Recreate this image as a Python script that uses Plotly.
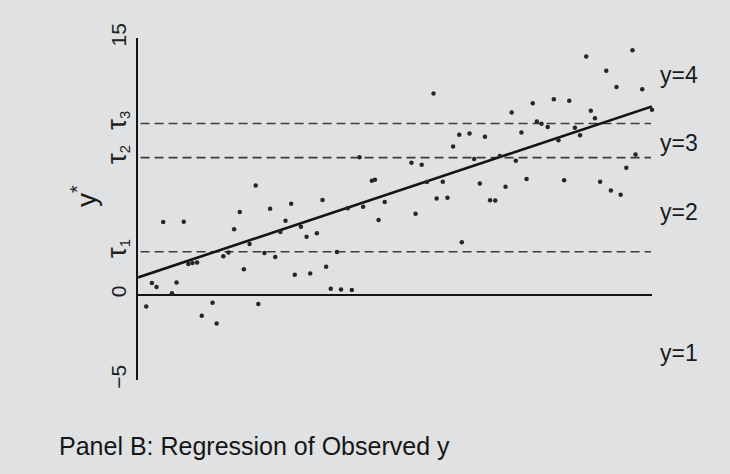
import plotly.graph_objects as go

# Latent y* scatter (x in arbitrary units 0..10)
x_vals = [9.92, 9.62, 8.72, 9.11, 9.31, 9.81, 5.75, 7.68, 8.09, 8.39,
          7.27, 8.81, 10.0, 7.76, 7.85, 7.97, 8.89, 6.25, 6.45, 6.75,
          7.46, 6.13, 8.18, 8.50, 8.60, 6.54, 7.04, 7.35, 5.32, 5.52,
          9.68, 9.50, 4.31, 4.55, 4.61, 5.62, 5.93, 6.65, 7.15, 7.56,
          8.29, 8.99, 9.20, 9.39, 5.81, 6.02, 6.85, 6.95, 4.80, 5.40,
          4.68, 6.30, 3.59, 4.38, 4.08, 3.28, 3.48, 3.87, 3.66, 3.35,
          3.75, 3.95, 4.16, 2.29, 1.98, 2.57, 2.98, 0.49, 0.89, 1.87,
          2.87, 2.77, 3.17, 2.17, 1.66, 1.76, 2.46, 2.67, 0.98, 1.06,
          1.15, 2.06, 3.05, 0.27, 0.36, 0.75, 0.66, 0.16, 1.45, 2.34,
          1.24, 1.53]
y_vals = [15.13, 14.28, 13.92, 13.09, 12.14, 12.00, 11.76, 11.18, 11.42, 11.33,
          10.64, 10.74, 10.81, 10.11, 9.98, 9.79, 10.30, 9.34, 9.41, 9.22,
          9.48, 8.65, 9.02, 9.75, 9.32, 7.92, 8.10, 7.82, 7.70, 7.59,
          8.19, 7.41, 8.03, 6.65, 6.71, 6.58, 6.59, 6.49, 6.30, 6.75,
          6.68, 6.60, 6.08, 5.84, 5.61, 5.66, 5.51, 5.49, 5.41, 4.72,
          4.35, 3.06, 5.53, 5.13, 5.04, 3.38, 3.58, 2.48, 1.63, 1.23,
          0.33, 0.29, 0.26, 6.37, 4.83, 5.01, 5.30, 4.24, 4.25, 3.82,
          4.32, 3.65, 3.96, 2.95, 2.24, 2.45, 2.43, 2.19, 1.79, 1.84,
          1.87, 1.48, 1.16, 0.67, 0.44, 0.70, 0.08, -0.70, -0.48, -0.56,
          -1.24, -1.70]

# Regression line endpoints
reg_x = [0, 10]
reg_y = [1.0, 11.0]

# Thresholds tau1..tau3
tau_vals = [2.5, 8.0, 10.0]

# Y-axis ticks
tick_vals = [-5, 0, 2.5, 8.0, 10.0, 15]
TAU = "<span style='font-size:27px'>\u03c4</span>"
tick_text = ["\u22125", "0", TAU + "<sub>1</sub>", TAU + "<sub>2</sub>", TAU + "<sub>3</sub>", "15"]

# Category labels on the right
cat_labels = ["y=4", "y=3", "y=2", "y=1"]
cat_label_pos = [0.892, 0.693, 0.491, 0.079]

FONT = "Liberation Sans, Arial, sans-serif"
BG = "#dfe1e3"

fig = go.Figure()

for t in tau_vals:
    fig.add_trace(go.Scatter(
        x=[0.05, 9.98], y=[t, t], mode="lines",
        line=dict(color="#3c3c3c", width=1.7, dash="9px,5px"),
        hoverinfo="skip", showlegend=False))

fig.add_trace(go.Scatter(
    x=reg_x, y=reg_y, mode="lines",
    line=dict(color="#141414", width=2.6),
    showlegend=False))

fig.add_trace(go.Scatter(
    x=x_vals, y=y_vals, mode="markers",
    marker=dict(color="#262626", size=4.5),
    cliponaxis=False, showlegend=False))

annotations = []
for lab, yp in zip(cat_labels, cat_label_pos):
    annotations.append(dict(
        text=lab, xref="paper", yref="paper", x=1.012, y=yp,
        xanchor="left", yanchor="middle", showarrow=False,
        font=dict(family=FONT, size=23, color="#1a1a1a")))

annotations.append(dict(
    text="y<sup>*</sup>", xref="paper", yref="paper", x=-0.105, y=0.538,
    xanchor="center", yanchor="middle", showarrow=False, textangle=-90,
    font=dict(family=FONT, size=28, color="#1a1a1a")))

annotations.append(dict(
    text="Panel B: Regression of Observed y", xref="paper", yref="paper",
    x=-0.157, y=-0.193, xanchor="left", yanchor="middle", showarrow=False,
    font=dict(family=FONT, size=25, color="#161616")))

fig.update_layout(
    width=730, height=474,
    margin=dict(l=138, r=78, t=38, b=94),
    paper_bgcolor=BG, plot_bgcolor=BG,
    xaxis=dict(range=[0, 10], visible=False, showgrid=False, zeroline=False),
    yaxis=dict(range=[-5, 15], showgrid=False,
               zeroline=True, zerolinecolor="#141414", zerolinewidth=2.2,
               showline=True, linecolor="#141414", linewidth=2.2,
               tickvals=tick_vals, ticktext=tick_text, tickangle=-90,
               ticks="", ticklabelstandoff=2,
               tickfont=dict(family=FONT, size=21, color="#222222")),
    annotations=annotations,
    showlegend=False,
)

fig.write_html("out.html", config={"displayModeBar": False},
               post_script="document.body.style.margin='0';document.body.style.background='%s';" % BG)
